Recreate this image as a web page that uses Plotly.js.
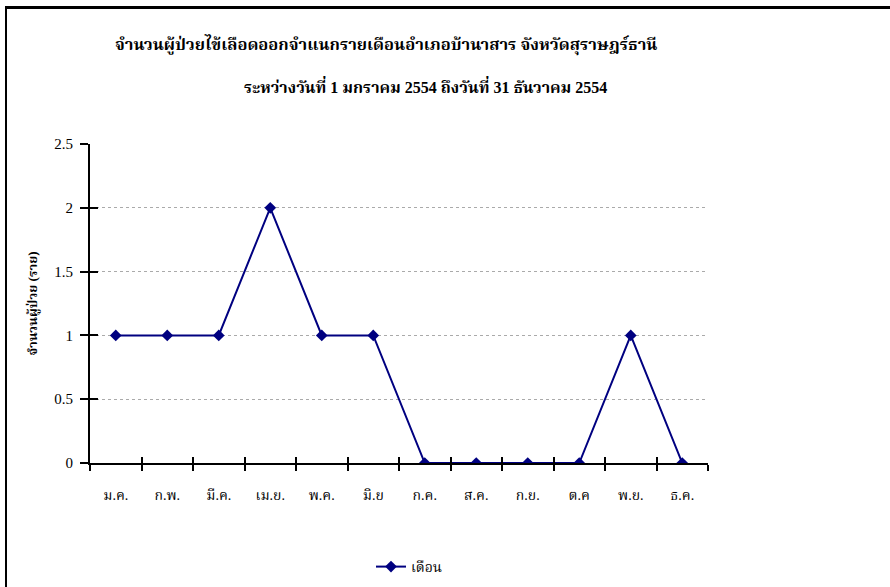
<!DOCTYPE html>
<html><head><meta charset="utf-8">
<script src="https://cdn.plot.ly/plotly-3.0.1.min.js"></script>
<style>
html,body{margin:0;padding:0;background:#fff;}
#wrap{position:relative;width:890px;height:587px;}
#chart{width:890px;height:587px;}
#frame{position:absolute;left:5px;top:6px;right:-5px;bottom:-5px;border-top:3px solid #000;border-left:2px solid #000;pointer-events:none;}
</style></head>
<body>
<div id="wrap"><div id="chart"></div><div id="frame"></div></div>
<script>
var months = ['ม.ค.','ก.พ.','มี.ค.','เม.ย.','พ.ค.','มิ.ย','ก.ค.','ส.ค.','ก.ย.','ต.ค','พ.ย.','ธ.ค.'];
var patients = [1,1,1,2,1,1,0,0,0,0,1,0];
var seriesName = 'เดือน';
var titleLine1 = 'จำนวนผู้ป่วยไข้เลือดออกจำแนกรายเดือนอำเภอบ้านาสาร จังหวัดสุราษฎร์ธานี';
var titleLine2 = 'ระหว่างวันที่ 1 มกราคม 2554 ถึงวันที่ 31 ธันวาคม 2554';
var yTitle = 'จำนวนผู้ป่วย (ราย)';

var serif = '"Liberation Serif", "Noto Serif Thai", "Noto Sans Thai", "DejaVu Serif", serif';

var traces = [
  {x: months, y: patients, type:'scatter', mode:'lines+markers', name: seriesName,
   line:{color:'#000080', width:2}, marker:{symbol:'diamond', size:9, color:'#000080'}},
  {x: months, y: patients, type:'scatter', mode:'markers', xaxis:'x2', yaxis:'y2',
   showlegend:false, hoverinfo:'skip', marker:{opacity:0}}
];

var axisX = {type:'category', range:[-0.5, 11.5], tickson:'boundaries', showline:true,
  linecolor:'#000', linewidth:2, ticklen:6, tickwidth:2, tickcolor:'#000', showgrid:false, zeroline:false,
  fixedrange:true, automargin:false};
var axisY = {range:[0,2.5], dtick:0.5, showline:true, linecolor:'#000', linewidth:2,
  ticklen:8, tickwidth:2, tickcolor:'#000', zeroline:false, fixedrange:true, automargin:false};

var layout = {
  width:890, height:587,
  margin:{l:90, r:182, t:144, b:124, autoexpand:false},
  paper_bgcolor:'#fff', plot_bgcolor:'#fff',
  showlegend:true,
  legend:{orientation:'h', xref:'container', yref:'container', x:371/890, xanchor:'left',
    y:(587-567)/587, yanchor:'middle',
    font:{family:serif, size:14, color:'#000'}},
  xaxis: Object.assign({}, axisX, {ticks:'outside',
    tickfont:{family:serif, size:14, color:'#000'}, ticklabelstandoff:18}),
  xaxis2: Object.assign({}, axisX, {ticks:'inside', overlaying:'x', showticklabels:false, anchor:'y'}),
  yaxis: Object.assign({}, axisY, {ticks:'outside', showgrid:true, gridcolor:'#aaa', griddash:'dot', gridwidth:1,
    tickfont:{family:serif, size:15, color:'#000'}, ticklabelstandoff:4,
    title:{text:yTitle, standoff:14, font:{family:serif, size:13, color:'#000', weight:'bold'}}}),
  yaxis2: Object.assign({}, axisY, {ticks:'inside', overlaying:'y', showticklabels:false, showgrid:false, anchor:'x'}),
  annotations:[
    {text:'<b>'+titleLine1+'</b>', xref:'paper', yref:'paper', x:(386-90)/618, y:(463-45)/319,
     xanchor:'center', yanchor:'middle', showarrow:false, font:{family:serif, size:16.5, color:'#000'}},
    {text:'<b>'+titleLine2+'</b>', xref:'paper', yref:'paper', x:(425-90)/618, y:(463-86)/319,
     xanchor:'center', yanchor:'middle', showarrow:false, font:{family:serif, size:16, color:'#000'}}
  ]
};
Plotly.newPlot('chart', traces, layout, {displayModeBar:false, staticPlot:true});
</script>
</body></html>
